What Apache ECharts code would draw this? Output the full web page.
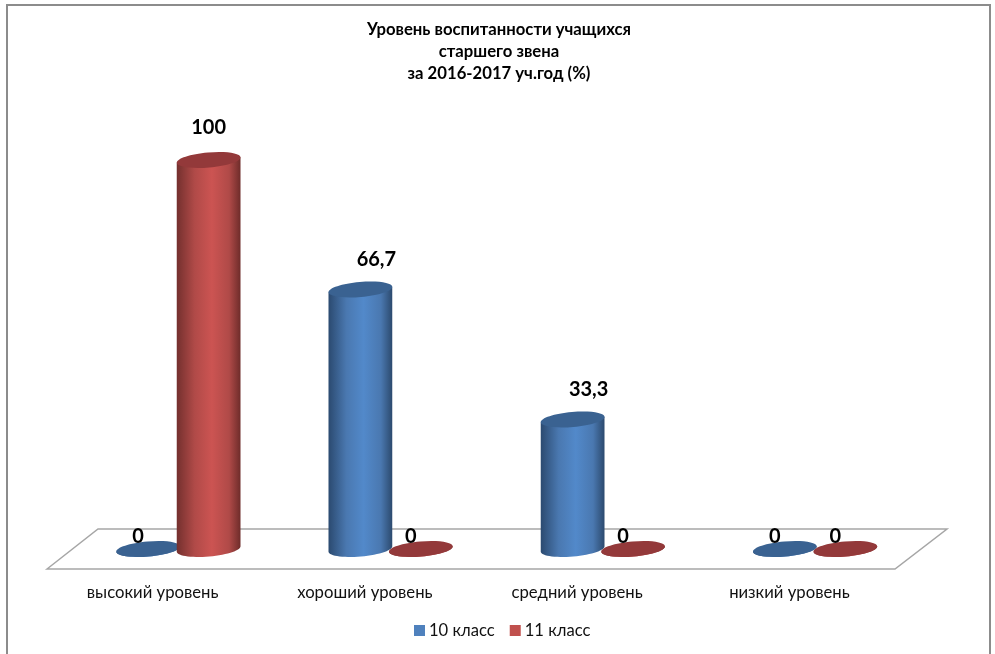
<!DOCTYPE html>
<html><head><meta charset="utf-8">
<style>html,body{margin:0;padding:0;background:#fff}#c{width:995px;height:654px}</style>
<script src="https://cdn.jsdelivr.net/npm/echarts@6/dist/echarts.min.js"></script>
</head><body><div id="c"></div>
<script>
const categories = ['высокий уровень','хороший уровень','средний уровень','низкий уровень'];
const class10 = [0, 66.7, 33.3, 0];
const class11 = [100, 0, 0, 0];
const seriesNames = ['10 класс','11 класс'];
const titleText = 'Уровень воспитанности учащихся\nстаршего звена\nза 2016-2017 уч.год (%)';

const FONT = 'Lato, Carlito, "Open Sans", sans-serif';
const palette = [
  {legend:'#4f81bd', top:'#3a6291', stops:['#2b4a70','#4a78b0','#5289ca','#4a78b0','#2c4a6e']},
  {legend:'#c0504d', top:'#93393a', stops:['#74302e','#b04a48','#cc5452','#b04a48','#6e2c2a']}
];
const RX = 32, RY = 7.5, TILT = -5 * Math.PI / 180;
function ellipsePoint(cx, cy, t){
  const x = RX*Math.cos(t), y = RY*Math.sin(t);
  return [cx + x*Math.cos(TILT) - y*Math.sin(TILT), cy + x*Math.sin(TILT) + y*Math.cos(TILT)];
}
function labelOffset(v){
  if (v === 0) return [-10, -12];
  if (v === 100) return [0, -32];
  return [16, -30];
}
function renderer(sIdx, dx){
  return function(params, api){
    const i = api.value(0), v = api.value(1);
    const base = api.coord([i, 0]), top = api.coord([i, v]);
    const cx = base[0] + dx, p = palette[sIdx];
    const pts = [];
    for (let a = 0; a <= 180; a += 6) pts.push(ellipsePoint(cx, base[1], a*Math.PI/180));
    const pl = ellipsePoint(cx, top[1], Math.PI), pr = ellipsePoint(cx, top[1], 0);
    pts.push(pl, pr);
    const off = labelOffset(v);
    return {type:'group', children:[
      {type:'polygon', shape:{points:pts}, style:{fill:{type:'linear',x:0,y:0,x2:1,y2:0,
        colorStops:p.stops.map((c,k)=>({offset:[0,0.28,0.55,0.82,1][k],color:c}))}}},
      {type:'ellipse', shape:{cx:0,cy:0,rx:RX,ry:RY}, x:cx, y:top[1], rotation:-TILT, style:{fill:p.top}},
      {type:'text', x:cx+off[0], y:top[1]+off[1], style:{text:String(v).replace('.',','),
        font:'bold 20px '+FONT, fill:'#000', align:'center', verticalAlign:'middle'}}
    ]};
  };
}
const toData = arr => arr.map((v,i)=>[i,v]);
const chart = echarts.init(document.getElementById('c'));
chart.setOption({
  animation:false,
  backgroundColor:'#fff',
  title:{text:titleText,left:494,top:14,textAlign:'center',
    textStyle:{fontFamily:FONT,fontSize:16.7,fontWeight:'bold',color:'#000',lineHeight:22}},
  legend:{bottom:10,left:409,itemWidth:11,itemHeight:11,itemGap:15,icon:'rect',
    data:seriesNames,textStyle:{fontFamily:FONT,fontSize:16.6,color:'#111',padding:[0,0,0,-1]}},
  grid:{left:46.5,width:849,top:160,height:389},
  xAxis:{type:'category',data:categories,axisLine:{show:false},axisTick:{show:false},
    axisLabel:{margin:35,fontFamily:FONT,fontSize:16.7,color:'#111'}},
  yAxis:{type:'value',min:0,max:100,show:false},
  graphic:[
    {type:'polyline',silent:true,shape:{points:[[7,654],[7,5],[990,5],[990,654]]},style:{fill:null,stroke:'#8c8c8c',lineWidth:2},z:-1},
    {type:'polygon',silent:true,shape:{points:[[47,569],[98,529],[947,529],[895,569]]},style:{fill:'#fff',stroke:'#a6a6a6',lineWidth:1.5},z:-1}
  ],
  series:[
    {name:seriesNames[0],type:'custom',data:toData(class10),itemStyle:{color:palette[0].legend},renderItem:renderer(0,-4.5),encode:{x:0,y:1},z:3},
    {name:seriesNames[1],type:'custom',data:toData(class11),itemStyle:{color:palette[1].legend},renderItem:renderer(1,56),encode:{x:0,y:1},z:4}
  ]
});
</script></body></html>
